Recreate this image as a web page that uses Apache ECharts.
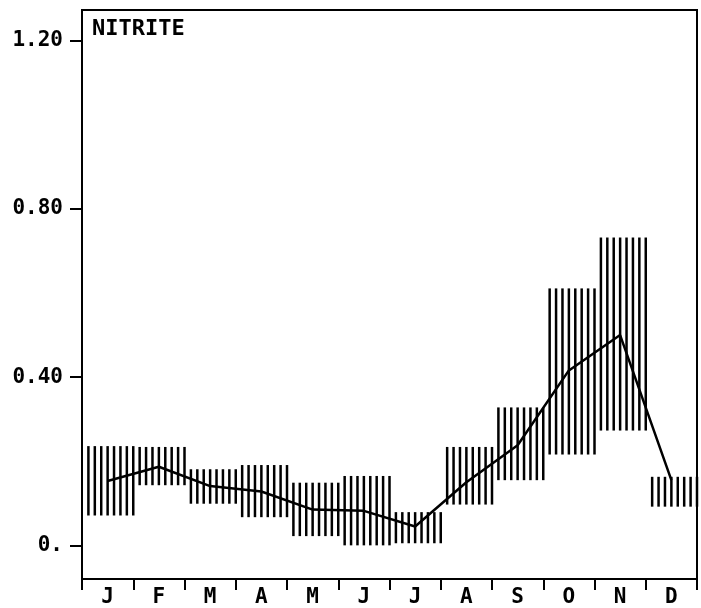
<!DOCTYPE html>
<html>
<head>
<meta charset="utf-8">
<script src="https://cdn.jsdelivr.net/npm/echarts@6/dist/echarts.min.js"></script>
<style>
  html, body { margin: 0; padding: 0; background: #fff; }
  #chart { width: 701px; height: 608px; }
</style>
</head>
<body>
<div id="chart"></div>
<script>
// Monthly nitrite: range (low/high) drawn as hatched blocks, mean as a line
const months = ['J', 'F', 'M', 'A', 'M', 'J', 'J', 'A', 'S', 'O', 'N', 'D'];
const lowValues  = [0.071, 0.143, 0.099, 0.067, 0.022, 0.000, 0.005, 0.097, 0.155, 0.216, 0.273, 0.092];
const highValues = [0.236, 0.234, 0.181, 0.191, 0.149, 0.165, 0.079, 0.234, 0.328, 0.611, 0.732, 0.163];
const meanValues = [0.153, 0.187, 0.141, 0.128, 0.085, 0.082, 0.045, 0.150, 0.238, 0.416, 0.500, 0.155];
const yTickValues = [0, 0.4, 0.8, 1.2];
const yTickLabels = ['0.', '0.40', '0.80', '1.20'];
const chartTitle = 'NITRITE';

const FONT = '"DejaVu Sans Mono", monospace';
const HATCH_LINES = 8;

const rangeData = months.map((m, i) => [i, lowValues[i], highValues[i]]);

const chart = echarts.init(document.getElementById('chart'), null, { renderer: 'canvas' });

chart.setOption({
  animation: false,
  backgroundColor: '#fff',
  grid: {
    left: 82, right: 4, top: 10, bottom: 23,
    show: true, borderColor: '#000', borderWidth: 2, backgroundColor: 'transparent'
  },
  xAxis: {
    type: 'category',
    data: months,
    boundaryGap: true,
    axisLine: { onZero: false, lineStyle: { color: '#000', width: 2 } },
    axisTick: { show: true, interval: 0, alignWithLabel: false, length: 11, lineStyle: { color: '#000', width: 2 } },
    axisLabel: { interval: 0, margin: 8, color: '#000', fontFamily: FONT, fontSize: 21, fontWeight: 'bold' },
    splitLine: { show: false }
  },
  yAxis: {
    type: 'value',
    min: -0.08,
    max: 1.273,
    axisLine: { show: true, onZero: false, lineStyle: { color: '#000', width: 2 } },
    axisTick: { show: true, length: 12, customValues: yTickValues, lineStyle: { color: '#000', width: 2 } },
    axisLabel: {
      customValues: yTickValues,
      margin: 19,
      color: '#000',
      fontFamily: FONT,
      fontSize: 21,
      fontWeight: 'bold',
      formatter: v => {
        const idx = yTickValues.findIndex(t => Math.abs(t - v) < 1e-6);
        return idx >= 0 ? yTickLabels[idx] : '';
      }
    },
    splitLine: { show: false }
  },
  graphic: [{
    type: 'text',
    left: 92,
    top: 18,
    style: { text: chartTitle, fill: '#000', font: 'bold 22px ' + FONT }
  }],
  series: [
    {
      type: 'custom',
      data: rangeData,
      encode: { x: 0, y: [1, 2] },
      renderItem: (params, api) => {
        const idx = api.value(0);
        const lowPt = api.coord([idx, api.value(1)]);
        const highPt = api.coord([idx, api.value(2)]);
        const bandWidth = api.size([1, 0])[0];
        const left = lowPt[0] - bandWidth / 2;
        const children = [];
        for (let k = 1; k <= HATCH_LINES; k++) {
          const x = left + bandWidth * k / HATCH_LINES;
          children.push({
            type: 'line',
            shape: { x1: x, y1: lowPt[1], x2: x, y2: highPt[1] },
            style: { stroke: '#000', lineWidth: 2.5 }
          });
        }
        return { type: 'group', children };
      },
      z: 2
    },
    {
      type: 'line',
      data: meanValues,
      symbol: 'none',
      smooth: false,
      lineStyle: { color: '#000', width: 2.5 },
      z: 3
    }
  ]
});
</script>
</body>
</html>
